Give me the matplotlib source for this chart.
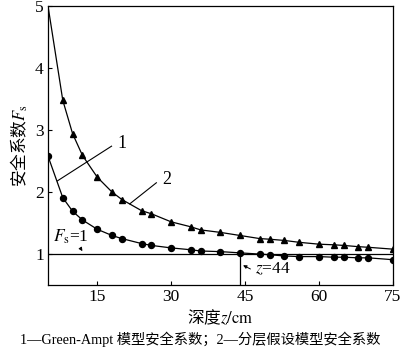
import numpy as np
import matplotlib
matplotlib.use('Agg')
import matplotlib.pyplot as plt

plt.rcParams['font.family'] = ['Liberation Serif', 'Noto Sans CJK SC']
plt.rcParams['mathtext.fontset'] = 'stix'

# 深度 z (cm)
z = [5, 8, 10, 12, 15, 18, 20, 24, 26, 30, 34, 36, 40, 44, 48, 50, 53, 56, 60, 63, 65, 68, 70, 75]
# 1 - Green-Ampt 模型安全系数
fs1 = [2.58, 1.91, 1.69, 1.55, 1.40, 1.30, 1.25, 1.17, 1.14, 1.10, 1.07, 1.05,
       1.04, 1.02, 1.00, 0.99, 0.97, 0.96, 0.96, 0.95, 0.95, 0.94, 0.94, 0.91]
# 2 - 分层假设模型安全系数
fs2 = [5.0, 3.48, 2.94, 2.59, 2.24, 2.00, 1.88, 1.70, 1.65, 1.52, 1.44, 1.39,
       1.35, 1.30, 1.25, 1.24, 1.22, 1.19, 1.16, 1.15, 1.14, 1.12, 1.11, 1.08]

fig = plt.figure(figsize=(4, 3.52), dpi=100)
ax = fig.add_axes([0.12, 0.19, 0.862, 0.793])

ax.plot(z, fs1, '-o', color='black', lw=0.9, ms=4.3)
ax.plot(z, fs2, '-^', color='black', lw=0.9, ms=4.0, markevery=list(range(1, len(z))))

# Fs=1 线 和 z=44 线
ax.axhline(1, color='black', lw=0.9)
ax.plot([44, 44], [0.5, fs1[z.index(44)]], color='black', lw=0.9)

ax.set_xlim(5, 75)
ax.set_ylim(0.5, 5)
ax.set_xticks([15, 30, 45, 60, 75])
ax.set_yticks([1, 2, 3, 4, 5])
ax.tick_params(direction='in', length=3, width=0.8, labelsize=12.5, pad=3)
for s in ax.spines.values():
    s.set_linewidth(0.9)

# 标注
ax.plot([6.9, 17.9], [2.18, 2.74], color='black', lw=0.8)
ax.text(19.0, 2.78, '1', fontsize=13, va='center', ha='left')
ax.plot([21.6, 27.0], [1.81, 2.15], color='black', lw=0.8)
ax.text(28.2, 2.20, '2', fontsize=13, va='center', ha='left')

ax.text(6.0, 1.28, r'$F_\mathrm{s}$=1', fontsize=12.5, va='center', ha='left')
ax.annotate('', xy=(12.3, 1.01), xytext=(11.3, 1.13),
            arrowprops=dict(arrowstyle='-|>', color='black', lw=0.7, mutation_scale=5))
ax.text(47.0, 0.75, r'$z$=44', fontsize=12.5, va='center', ha='left')
ax.annotate('', xy=(44.1, 0.84), xytext=(46.6, 0.74),
            arrowprops=dict(arrowstyle='-|>', color='black', lw=0.7, mutation_scale=5))

ax.set_ylabel(r'安全系数$F_\mathrm{s}$', fontsize=12, labelpad=4, family='Noto Sans CJK SC')
ax.set_xlabel(r'深度$z\mathrm{/cm}$', fontsize=12, labelpad=2, family='Noto Sans CJK SC')

fig.text(0.5, 0.035, '1—Green-Ampt 模型安全系数；2—分层假设模型安全系数',
         fontsize=10.3, ha='center', va='center')

fig.savefig('out.png', dpi=100)
